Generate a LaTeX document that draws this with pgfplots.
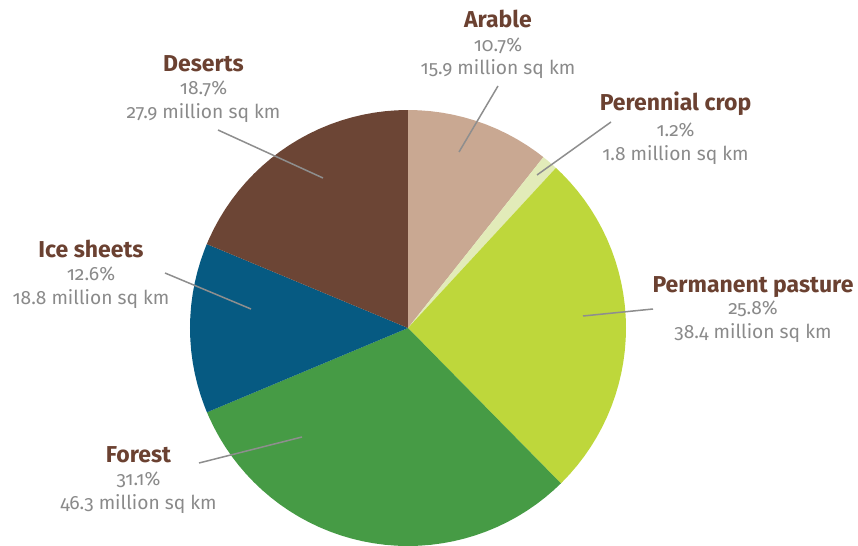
\documentclass[border=0pt]{standalone}
\usepackage{pgfplots}
\pgfplotsset{compat=1.18}
\usepgfplotslibrary{polar}
\usepackage{fontspec}
\setmainfont[RawFeature={+onum}]{Fira Sans}
\definecolor{carable}{HTML}{C9A892}
\definecolor{cperen}{HTML}{E2EBB9}
\definecolor{cpast}{HTML}{BED73B}
\definecolor{cforest}{HTML}{469B45}
\definecolor{cice}{HTML}{065A82}
\definecolor{cdesert}{HTML}{6C4535}
\definecolor{ctitle}{HTML}{6B4131}
\definecolor{ctext}{HTML}{8A8A8A}
\definecolor{cline}{HTML}{8E8E8E}
\newcommand{\ttl}{\fontsize{11.5}{13}\selectfont\bfseries\color{ctitle}}
\newcommand{\txt}{\fontsize{9.6}{12}\selectfont\color{ctext}}
\begin{document}
\begin{tikzpicture}
\begin{scope}[x=0.5pt,y=-0.5pt]
\useasboundingbox (0,0) rectangle (858,546);
\end{scope}
\begin{polaraxis}[at={(204pt,-164pt)}, anchor=center, hide axis, scale only axis,
  width=218pt, height=218pt, ymin=0, ymax=1, xmin=0, xmax=360, clip=false]
% Arable 15.9
\addplot[draw=none, fill=carable] coordinates {(0,0) (90,1) (87,1) (84,1) (81,1) (78,1) (75,1) (72,1) (69,1) (66,1) (63,1) (60,1) (57,1) (54,1) (51.61,1)};
% Perennial crop 1.8
\addplot[draw=none, fill=cperen] coordinates {(0,0) (51.61,1) (50,1) (48.5,1) (47.26,1)};
% Permanent pasture 38.4
\addplot[draw=none, fill=cpast] coordinates {(0,0) (47.26,1) (45,1) (42,1) (39,1) (36,1) (33,1) (30,1) (27,1) (24,1) (21,1) (18,1) (15,1) (12,1) (9,1) (6,1) (3,1) (0,1) (-3,1) (-6,1) (-9,1) (-12,1) (-15,1) (-18,1) (-21,1) (-24,1) (-27,1) (-30,1) (-33,1) (-36,1) (-39,1) (-42,1) (-45,1) (-45.46,1)};
% Forest 46.3
\addplot[draw=none, fill=cforest] coordinates {(0,0) (-45.46,1) (-48,1) (-51,1) (-54,1) (-57,1) (-60,1) (-63,1) (-66,1) (-69,1) (-72,1) (-75,1) (-78,1) (-81,1) (-84,1) (-87,1) (-90,1) (-93,1) (-96,1) (-99,1) (-102,1) (-105,1) (-108,1) (-111,1) (-114,1) (-117,1) (-120,1) (-123,1) (-126,1) (-129,1) (-132,1) (-135,1) (-138,1) (-141,1) (-144,1) (-147,1) (-150,1) (-153,1) (-156,1) (-157.25,1)};
% Ice sheets 18.8
\addplot[draw=none, fill=cice] coordinates {(0,0) (-157.25,1) (-159,1) (-162,1) (-165,1) (-168,1) (-171,1) (-174,1) (-177,1) (-180,1) (-183,1) (-186,1) (-189,1) (-192,1) (-195,1) (-198,1) (-201,1) (-202.64,1)};
% Deserts 27.9
\addplot[draw=none, fill=cdesert] coordinates {(0,0) (-202.64,1) (-204,1) (-207,1) (-210,1) (-213,1) (-216,1) (-219,1) (-222,1) (-225,1) (-228,1) (-231,1) (-234,1) (-237,1) (-240,1) (-243,1) (-246,1) (-249,1) (-252,1) (-255,1) (-258,1) (-261,1) (-264,1) (-267,1) (-270,1)};
\end{polaraxis}
\begin{scope}[x=0.5pt,y=-0.5pt]
% leader lines
\begin{scope}[draw=cline, line width=0.75pt]
\draw (498,86) -- (459,152);
\draw (611,122) -- (537,175);
\draw (653,309) -- (583,316);
\draw (199,463) -- (302,437);
\draw (165,273) -- (251,309);
\draw (218,130) -- (323,178);
\end{scope}
% labels
\node[anchor=base, inner sep=0pt] at (498,27) {\ttl Arable};
\node[anchor=base, inner sep=0pt] at (498,52) {\txt 10.7\%};
\node[anchor=base, inner sep=0pt] at (498,75) {\txt 15.9 million sq km};
\node[anchor=base, inner sep=0pt] at (675.5,111) {\ttl Perennial crop};
\node[anchor=base, inner sep=0pt] at (675.5,136) {\txt 1.2\%};
\node[anchor=base, inner sep=0pt] at (675.5,160) {\txt 1.8 million sq km};
\node[anchor=base, inner sep=0pt] at (753,292) {\ttl Permanent pasture};
\node[anchor=base, inner sep=0pt] at (753,314) {\txt 25.8\%};
\node[anchor=base, inner sep=0pt] at (753,338) {\txt 38.4 million sq km};
\node[anchor=base, inner sep=0pt] at (138.5,462) {\ttl Forest};
\node[anchor=base, inner sep=0pt] at (138.5,485) {\txt 31.1\%};
\node[anchor=base, inner sep=0pt] at (138.5,509) {\txt 46.3 million sq km};
\node[anchor=base, inner sep=0pt] at (91,257) {\ttl Ice sheets};
\node[anchor=base, inner sep=0pt] at (91,280) {\txt 12.6\%};
\node[anchor=base, inner sep=0pt] at (91,304) {\txt 18.8 million sq km};
\node[anchor=base, inner sep=0pt] at (203.5,71) {\ttl Deserts};
\node[anchor=base, inner sep=0pt] at (203.5,94) {\txt 18.7\%};
\node[anchor=base, inner sep=0pt] at (203.5,119) {\txt 27.9 million sq km};
\end{scope}
\end{tikzpicture}
\end{document}
